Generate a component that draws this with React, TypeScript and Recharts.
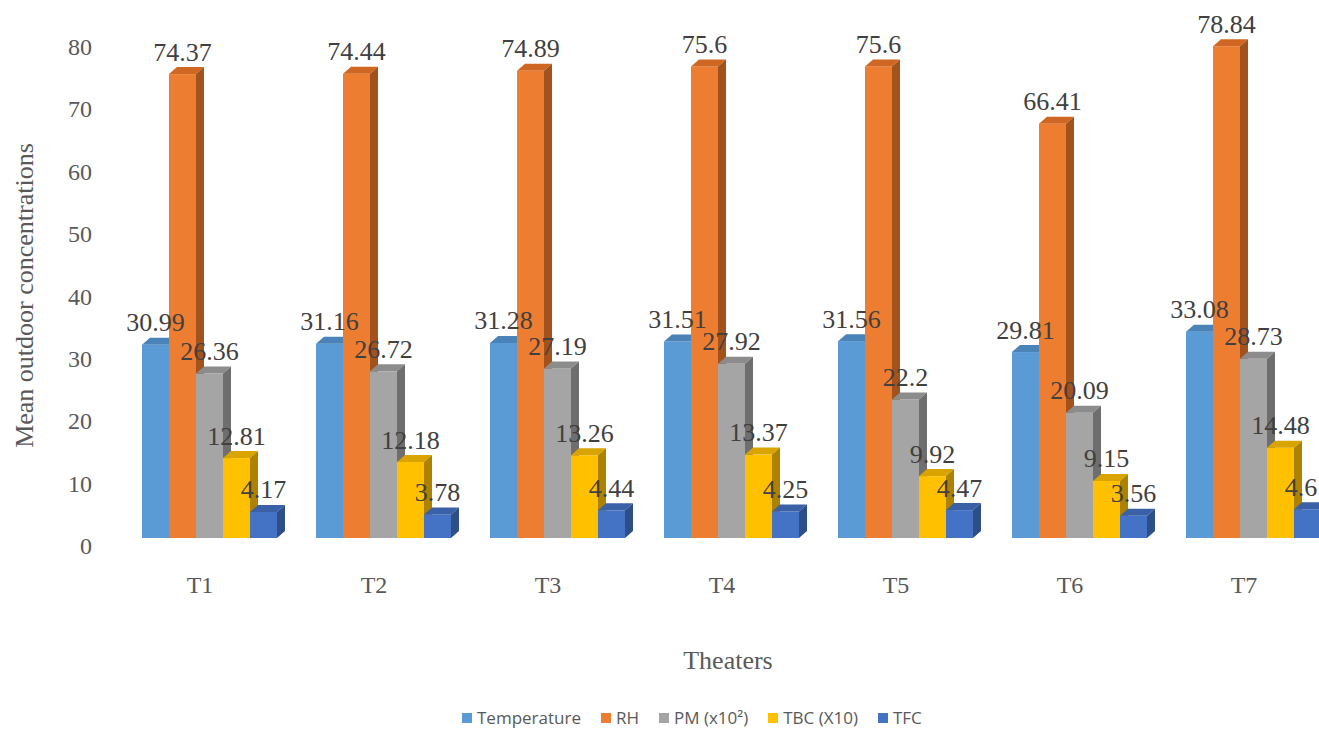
import React from "react";
import { BarChart, Bar, XAxis, YAxis, LabelList } from "recharts";

const theaters = ["T1", "T2", "T3", "T4", "T5", "T6", "T7"];
const temperature = [30.99, 31.16, 31.28, 31.51, 31.56, 29.81, 33.08];
const rh = [74.37, 74.44, 74.89, 75.6, 75.6, 66.41, 78.84];
const pm = [26.36, 26.72, 27.19, 27.92, 22.2, 20.09, 28.73];
const tbc = [12.81, 12.18, 13.26, 13.37, 9.92, 9.15, 14.48];
const tfc = [4.17, 3.78, 4.44, 4.25, 4.47, 3.56, 4.61];
const yTicks = [0, 10, 20, 30, 40, 50, 60, 70, 80];

const series = [
  { key: "temperature", name: "Temperature", values: temperature, front: "#5B9BD5", top: "#4A83B8", side: "#3D6C99" },
  { key: "rh", name: "RH", values: rh, front: "#ED7D31", top: "#CF6723", side: "#A2521C" },
  { key: "pm", name: "PM (x10²)", values: pm, front: "#A5A5A5", top: "#8C8C8C", side: "#6E6E6E" },
  { key: "tbc", name: "TBC (X10)", values: tbc, front: "#FFC000", top: "#D9A300", side: "#AD8200" },
  { key: "tfc", name: "TFC", values: tfc, front: "#4472C4", top: "#3A61A7", side: "#2E4E88" },
];

const data = theaters.map((t, i) => {
  const row: Record<string, string | number> = { name: t };
  series.forEach((s) => { row[s.key] = s.values[i]; });
  return row;
});

const SERIF = "'Liberation Serif', 'Times New Roman', serif";
const SANS = "'Open Sans', 'Noto Sans', sans-serif";
const SHIFT = 9; // front faces sit a little right of the band centre
const DX = 8;    // depth of the extruded bar
const DY = 7;

function Bar3D(colors: { front: string; top: string; side: string }) {
  return (props: any) => {
    const { y, width: w, height: h } = props;
    const x = props.x + SHIFT;
    if (!h || h <= 0) return null;
    return (
      <g>
        <rect x={x} y={y} width={w} height={h} fill={colors.front} />
        <polygon points={`${x},${y} ${x + DX},${y - DY} ${x + w + DX},${y - DY} ${x + w},${y}`} fill={colors.top} />
        <polygon points={`${x + w},${y} ${x + w + DX},${y - DY} ${x + w + DX},${y + h - DY} ${x + w},${y + h}`} fill={colors.side} />
      </g>
    );
  };
}

function ValueLabel(props: any) {
  const { x, y, width, value } = props;
  return (
    <text x={x + SHIFT + width / 2} y={y - 22} textAnchor="middle" dominantBaseline="central"
      fontFamily={SERIF} fontSize={26} fill="#404040">
      {value}
    </text>
  );
}

export default function App() {
  return (
    <div style={{ position: "fixed", left: 0, top: 0, width: 1319, height: 731, overflow: "hidden", background: "#fff" }}>
      <BarChart width={1340} height={731} data={data} barCategoryGap={20} barGap={0}
        margin={{ top: 39, right: 9, left: 0, bottom: 53 }}>
        <XAxis dataKey="name" axisLine={false} tickLine={false} tickSize={0} tickMargin={0} height={140}
          interval={0}
          tick={({ x, y, payload }: any) => (
            <text x={x} y={y + 47} textAnchor="middle" dominantBaseline="central"
              fontFamily={SERIF} fontSize={24} fill="#595959">{payload.value}</text>
          )}
          label={({ viewBox }: any) => (
            <text x={viewBox.x + viewBox.width / 2 + 6} y={viewBox.y + 122} textAnchor="middle"
              dominantBaseline="central" fontFamily={SERIF} fontSize={26} fill="#595959">Theaters</text>
          )}
        />
        <YAxis domain={[0, 80]} ticks={yTicks} width={113} axisLine={false} tickLine={false}
          tickSize={0} tickMargin={21}
          tick={({ x, y, payload }: any) => (
            <text x={x} y={y + 8} textAnchor="end" dominantBaseline="central"
              fontFamily={SERIF} fontSize={24} fill="#595959">{payload.value}</text>
          )}
          label={({ viewBox }: any) => {
            const cx = 24;
            const cy = viewBox.y + viewBox.height / 2 + 7;
            return (
              <text x={cx} y={cy} transform={`rotate(-90 ${cx} ${cy})`} textAnchor="middle"
                dominantBaseline="central" fontFamily={SERIF} fontSize={26} fill="#595959">
                Mean outdoor concentrations
              </text>
            );
          }}
        />
        {series.map((s) => (
          <Bar key={s.key} dataKey={s.key} name={s.name} fill={s.front} isAnimationActive={false}
            shape={Bar3D(s)}>
            <LabelList dataKey={s.key} content={ValueLabel} />
          </Bar>
        ))}
      </BarChart>
      <div style={{ position: "absolute", left: 462, top: 706, display: "flex", alignItems: "center",
        fontFamily: SANS, fontSize: 17, color: "#595959", whiteSpace: "nowrap" }}>
        {series.map((s) => (
          <div key={s.key} style={{ display: "flex", alignItems: "center", marginRight: 20 }}>
            <span style={{ display: "inline-block", width: 10, height: 10, background: s.front, marginRight: 5 }} />
            <span>{s.name}</span>
          </div>
        ))}
      </div>
    </div>
  );
}
